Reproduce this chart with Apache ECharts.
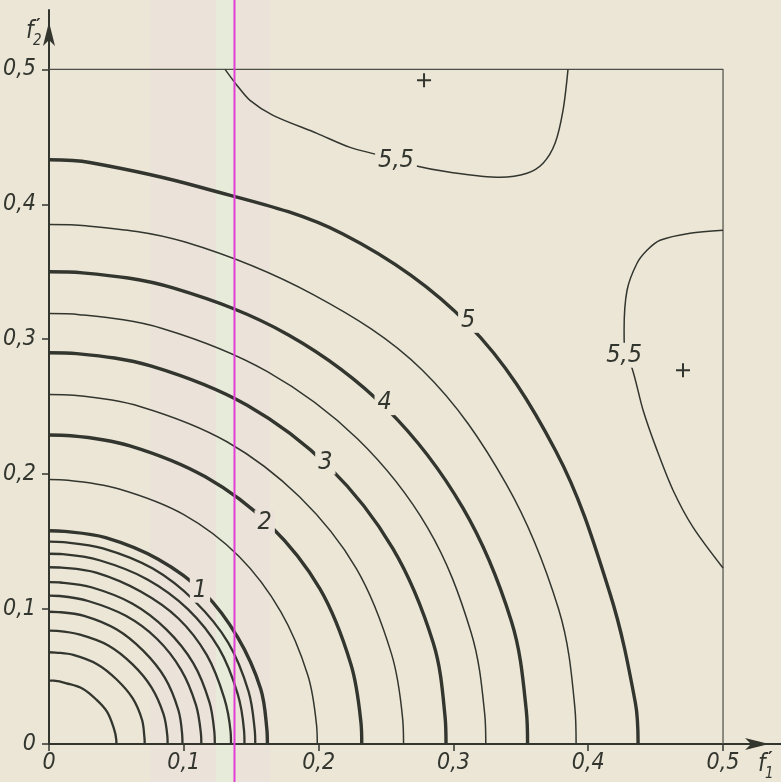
<!DOCTYPE html>
<html>
<head>
<meta charset="utf-8">
<script src="https://cdn.jsdelivr.net/npm/echarts@6/dist/echarts.min.js"></script>
<style>
  html, body { margin: 0; padding: 0; background: #ebe6d6; }
  #chart { width: 781px; height: 782px; }
</style>
</head>
<body>
<div id="chart"></div>
<script>
// Axis ticks (f1', f2')
const tickValues = [0, 0.1, 0.2, 0.3, 0.4, 0.5];
const tickLabels = ['0', '0,1', '0,2', '0,3', '0,4', '0,5'];

// Isolines, traced as [f1', f2'] points from the f1' axis round to the f2' axis
const c01 = [[0.050,0],[0.0499,0.0033],[0.048,0.012],[0.043,0.024],[0.035,0.033],[0.025,0.041],[0.013,0.045],[0.0035,0.0469],[0,0.047]];
const c02 = [[0.071,0],[0.0708,0.0047],[0.069,0.018],[0.062,0.034],[0.050,0.048],[0.036,0.059],[0.018,0.066],[0.0050,0.0678],[0,0.068]];
const c03 = [[0.088,0],[0.0878,0.0059],[0.085,0.022],[0.076,0.042],[0.062,0.059],[0.044,0.073],[0.023,0.081],[0.0061,0.0838],[0,0.084]];
const c04 = [[0.099,0],[0.0988,0.0068],[0.096,0.025],[0.086,0.049],[0.070,0.069],[0.050,0.085],[0.026,0.095],[0.0069,0.0978],[0,0.098]];
const c05 = [[0.113,0],[0.1127,0.0077],[0.109,0.029],[0.098,0.055],[0.080,0.078],[0.057,0.095],[0.029,0.106],[0.0079,0.1097],[0,0.110]];
const c06 = [[0.123,0],[0.1227,0.0084],[0.119,0.031],[0.107,0.060],[0.087,0.085],[0.062,0.104],[0.032,0.116],[0.0086,0.1197],[0,0.120]];
const c07 = [[0.135,0],[0.1347,0.0091],[0.130,0.034],[0.117,0.066],[0.096,0.093],[0.068,0.113],[0.035,0.127],[0.0094,0.1307],[0,0.131]];
const c08 = [[0.145,0],[0.1447,0.0098],[0.140,0.037],[0.126,0.071],[0.103,0.100],[0.073,0.122],[0.038,0.136],[0.0101,0.1407],[0,0.141]];
const c09 = [[0.153,0],[0.1526,0.0105],[0.148,0.039],[0.133,0.075],[0.108,0.106],[0.077,0.130],[0.040,0.145],[0.0107,0.1496],[0,0.150]];
const c10 = [[0.162,0],[0.1616,0.0110],[0.157,0.041],[0.140,0.079],[0.115,0.112],[0.081,0.137],[0.042,0.153],[0.0113,0.1576],[0,0.158]];
const c15 = [[0.199,0],[0.1985,0.0137],[0.192,0.051],[0.172,0.098],[0.141,0.139],[0.100,0.170],[0.052,0.189],[0.0139,0.1955],[0,0.196]];
const c20 = [[0.232,0],[0.2314,0.0160],[0.224,0.059],[0.201,0.115],[0.164,0.162],[0.116,0.198],[0.060,0.221],[0.0162,0.2285],[0,0.229]];
const c25 = [[0.263,0],[0.2624,0.0181],[0.254,0.067],[0.228,0.130],[0.186,0.183],[0.132,0.224],[0.068,0.250],[0.0184,0.2584],[0,0.259]];
const c30 = [[0.2945,0],[0.2938,0.0202],[0.285,0.075],[0.255,0.145],[0.208,0.205],[0.147,0.251],[0.076,0.280],[0.0206,0.2893],[0,0.290]];
const c35 = [[0.324,0],[0.3232,0.0223],[0.313,0.083],[0.281,0.160],[0.229,0.226],[0.162,0.276],[0.084,0.308],[0.0226,0.3182],[0,0.319]];
const c40 = [[0.355,0],[0.3541,0.0244],[0.343,0.091],[0.307,0.175],[0.251,0.248],[0.178,0.303],[0.092,0.338],[0.0248,0.3492],[0,0.350]];
const c45 = [[0.391,0],[0.3901,0.0269],[0.378,0.100],[0.339,0.193],[0.277,0.277],[0.196,0.333],[0.101,0.372],[0.0273,0.3841],[0,0.385]];
const c50 = [[0.437,0],[0.4350,0.0304],[0.416,0.112],[0.376,0.217],[0.311,0.311],[0.218,0.378],[0.111,0.413],[0.0302,0.4310],[0,0.433]];
const c55top = [[0.1306,0.500],[0.1395,0.4881],[0.1491,0.4770],[0.1662,0.4659],[0.1988,0.4526],[0.2233,0.4422],
  [0.2455,0.4363],[0.2700,0.4289],[0.2975,0.4237],[0.3346,0.4200],[0.3546,0.4230],[0.3665,0.4304],
  [0.3754,0.4452],[0.3813,0.4696],[0.3850,0.500]];
const c55right = [[0.5,0.3807],[0.4755,0.3785],[0.4533,0.3733],[0.4436,0.3659],[0.4362,0.3563],[0.4288,0.3363],
  [0.4266,0.3067],[0.4273,0.2881],[0.4325,0.2785],[0.4407,0.2474],[0.4510,0.2178],[0.4629,0.1881],
  [0.4777,0.1607],[0.5,0.1304]];

// Line weight class for each isoline: 'major' integer levels, 'inner' tenths, 'minor' half steps
const isolines = [c01, c02, c03, c04, c05, c06, c07, c08, c09, c10, c15, c20, c25, c30, c35, c40, c45, c50, c55top, c55right];
const isolineWeight = ['inner','inner','inner','inner','inner','inner','inner','inner','inner','major',
  'minor','major','minor','major','minor','major','minor','major','minor','minor'];

// Level labels written on the isolines
const levelLabelText = ['1', '2', '3', '4', '5', '5,5', '5,5'];
const levelLabelPos = [[0.112,0.114],[0.160,0.164],[0.205,0.209],[0.249,0.253],[0.311,0.314],[0.2574,0.4326],[0.4266,0.2881]];

// Maxima markers
const maxima = [[0.2782,0.4919],[0.4703,0.2770]];

// Domain frame at f' = 0.5
const frame = [[0,0.5],[0.5,0.5],[0.5,0]];

// Vertical cursor and tinted paper strips (f1' ranges)
const cursorX = 0.1376;
const pinkStrips = [[0.075,0.124],[0.1395,0.164]];
const greenStrips = [[0.124,0.1362]];

const PAPER = '#ebe6d6', PINK = '#ebe2da', GREEN = '#e7ecda';
const INK = '#33362f';
const FONT = "'DejaVu Sans Condensed', 'DejaVu Sans', sans-serif";
const widths = { major: 3.4, inner: 2.3, minor: 1.5 };

function paperAt(x) {
  if (pinkStrips.some(([a, b]) => x >= a && x <= b)) return PINK;
  if (greenStrips.some(([a, b]) => x >= a && x <= b)) return GREEN;
  return PAPER;
}

function tickText(v) {
  const i = tickValues.findIndex(t => Math.abs(t - v) < 1e-9);
  return i >= 0 ? tickLabels[i] : '';
}

const series = isolines.map((pts, i) => ({
  type: 'line',
  data: pts,
  smooth: i >= 18 ? 0.3 : 0.35,
  symbol: 'none',
  silent: true,
  z: 3,
  lineStyle: { color: INK, width: widths[isolineWeight[i]], cap: 'butt' }
}));

series.push({
  type: 'line',
  data: frame,
  symbol: 'none',
  silent: true,
  z: 2,
  lineStyle: { color: '#4d4e47', width: 1.2 }
});

series.push({
  type: 'scatter',
  silent: true,
  z: 6,
  symbol: 'rect',
  symbolSize: 1,
  data: levelLabelPos.map((p, i) => ({
    value: p,
    itemStyle: { color: paperAt(p[0]), opacity: 1 },
    label: {
      show: true,
      position: 'inside',
      formatter: levelLabelText[i],
      fontFamily: FONT,
      fontStyle: 'italic',
      fontSize: 25,
      color: INK,
      opacity: 1,
      textBorderWidth: 0,
      backgroundColor: paperAt(p[0]),
      padding: [0, 3, 0, 3]
    }
  }))
});

series.push({
  type: 'scatter',
  silent: true,
  z: 6,
  symbol: 'path://M6,0H8V6H14V8H8V14H6V8H0V6H6Z',
  symbolSize: 14,
  itemStyle: { color: INK, opacity: 1 },
  data: maxima
});

const option = {
  backgroundColor: PAPER,
  animation: false,
  grid: { left: 49, right: 0, top: 10, bottom: 38, containLabel: false, outerBoundsMode: 'none' },
  xAxis: {
    type: 'value',
    min: 0,
    max: 0.543,
    splitLine: { show: false },
    axisLine: { show: true, onZero: false, symbol: ['none', 'arrow'], symbolSize: [9, 24], symbolOffset: [0, -12],
      lineStyle: { color: INK, width: 2 } },
    axisTick: { show: true, length: 7, customValues: tickValues, lineStyle: { color: INK, width: 1.5 } },
    axisLabel: { customValues: tickValues, formatter: tickText, margin: 8, color: INK, fontFamily: FONT, fontStyle: 'italic', fontSize: 23 }
  },
  yAxis: {
    type: 'value',
    min: 0,
    max: 0.544,
    splitLine: { show: false },
    axisLine: { show: true, onZero: false, symbol: ['none', 'arrow'], symbolSize: [9, 24], symbolOffset: [0, -12],
      lineStyle: { color: INK, width: 2 } },
    axisTick: { show: true, length: 7, customValues: tickValues, lineStyle: { color: INK, width: 1.5 } },
    axisLabel: { customValues: tickValues, formatter: tickText, margin: 13, color: INK, fontFamily: FONT, fontStyle: 'italic', fontSize: 23 }
  },
  series: series
};

const chart = echarts.init(document.getElementById('chart'), null, { renderer: 'canvas' });
chart.setOption(option);

// Paper strips and the cursor span the full page height, placed on the f1' scale
const px = v => chart.convertToPixel({ xAxisIndex: 0 }, v);
const W = chart.getWidth(), H = chart.getHeight();
const origin = chart.convertToPixel({ gridIndex: 0 }, [0, 0]);
const graphics = [];
pinkStrips.concat(greenStrips).forEach(([a, b]) => {
  graphics.push({
    type: 'rect', silent: true, z: -10,
    shape: { x: px(a), y: 0, width: px(b) - px(a), height: H },
    style: { fill: paperAt((a + b) / 2) }
  });
});
graphics.push({
  type: 'line', silent: true, z: 100,
  shape: { x1: px(cursorX), y1: 0, x2: px(cursorX), y2: H },
  style: { stroke: '#e23cd9', lineWidth: 2 }
});

// Axis names f'1 and f'2: letter, prime and subscript index
function axisName(x, y, idx) {
  const t = (dx, dy, text, font) => ({
    type: 'text', silent: true, z: 50, x: x + dx, y: y + dy,
    style: { text: text, font: font, fill: INK, textBaseline: 'top', textAlign: 'left' }
  });
  return [
    t(0, 0, 'f', "italic 24px 'DejaVu Sans Condensed', sans-serif"),
    t(10, -3, '\u2032', "bold 18px 'DejaVu Sans', sans-serif"),
    t(7, 14, idx, "italic 15px 'DejaVu Sans Condensed', sans-serif")
  ];
}
graphics.push(...axisName(origin[0] - 23, 20, '2'));
graphics.push(...axisName(W - 23, origin[1] + 9, '1'));

chart.setOption({ graphic: graphics });
</script>
</body>
</html>
